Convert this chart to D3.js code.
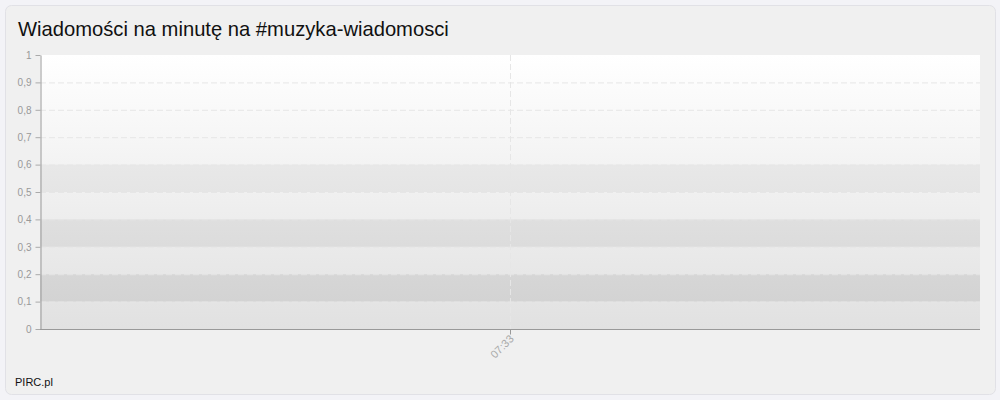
<!DOCTYPE html>
<html><head><meta charset="utf-8">
<script src="https://cdn.jsdelivr.net/npm/d3@7"></script>
<style>
html,body{margin:0;padding:0;background:#f3f3f7;}
svg{display:block;font-family:"Liberation Sans",Arial,sans-serif;}
</style></head>
<body>
<svg id="c" width="1000" height="400"></svg>
<script>
const title = "Wiadomości na minutę na #muzyka-wiadomosci";
const credit = "PIRC.pl";
const categories = ["07:33"];
const values = [0];
const yTicks = [0,0.1,0.2,0.3,0.4,0.5,0.6,0.7,0.8,0.9,1];
const bandRanges = [[0.1,0.2],[0.3,0.4],[0.5,0.6]];

const svg = d3.select("#c");
const m = {left:40, right:980, top:55, bottom:329};

svg.append("rect").attr("x",5.5).attr("y",5.5).attr("width",990).attr("height",389)
  .attr("rx",6).attr("fill","#f0f0f0").attr("stroke","#e1e1e6");

svg.append("text").attr("x",18).attr("y",36).attr("font-size",20.2).attr("fill","#111").text(title);

const x = d3.scalePoint().domain(categories).range([m.left,m.right]).padding(0.5);
const y = d3.scaleLinear().domain([0,1]).range([m.bottom,m.top]);

const defs = svg.append("defs");
const g = defs.append("linearGradient").attr("id","bg").attr("x1",0).attr("y1",0).attr("x2",0).attr("y2",1);
g.append("stop").attr("offset","0%").attr("stop-color","#ffffff");
g.append("stop").attr("offset","100%").attr("stop-color","#e1e1e1");

svg.append("rect").attr("x",m.left).attr("y",m.top).attr("width",m.right-m.left).attr("height",m.bottom-m.top)
  .attr("fill","url(#bg)");

svg.append("g").selectAll("rect").data(bandRanges).join("rect")
  .attr("x",m.left).attr("width",m.right-m.left)
  .attr("y",d=>y(d[1])).attr("height",d=>y(d[0])-y(d[1]))
  .attr("fill","#000").attr("fill-opacity",(d,i)=>[0.07,0.06,0.045][i]);

// grid
svg.append("g").selectAll("line").data(yTicks.filter(t=>t>0 && t<1)).join("line")
  .attr("x1",m.left).attr("x2",m.right).attr("y1",d=>y(d)+0.5).attr("y2",d=>y(d)+0.5)
  .attr("stroke","#e6e6e6").attr("stroke-dasharray","6,3");
svg.append("g").selectAll("line").data(categories).join("line")
  .attr("x1",d=>x(d)+0.5).attr("x2",d=>x(d)+0.5).attr("y1",m.top).attr("y2",m.bottom)
  .attr("stroke","#e6e6e6").attr("stroke-dasharray","6,3");

// y axis
const fmt = d => String(d).replace(".",",");
const ya = svg.append("g").attr("transform",`translate(${m.left+0.5},0)`)
  .call(d3.axisLeft(y).tickValues(yTicks).tickFormat(fmt).tickSize(5).tickSizeOuter(0).tickPadding(4));
ya.select(".domain").attr("stroke","#999");
ya.selectAll(".tick line").attr("stroke","#aaa");
ya.selectAll(".tick text").attr("fill","#999").attr("font-size",10).attr("font-family","Liberation Sans, Arial, sans-serif");

// x axis
const xa = svg.append("g").attr("transform",`translate(0,${m.bottom+0.5})`)
  .call(d3.axisBottom(x).tickSize(5).tickSizeOuter(0));
xa.select(".domain").attr("stroke","#999").attr("d",`M${m.left},0H${m.right}`);
xa.selectAll(".tick line").attr("stroke","#999");
xa.selectAll(".tick text").attr("fill","#aaa").attr("font-size",11)
  .attr("font-family","Liberation Sans, Arial, sans-serif")
  .attr("text-anchor","end").attr("dy",0).attr("y",0)
  .attr("transform","translate(4,10) rotate(-45)");

// series (single point, no visible line)
svg.append("path").datum(values.map((v,i)=>[categories[i],v]))
  .attr("fill","none").attr("stroke","#4572a7").attr("stroke-width",2)
  .attr("d",d3.line().x(d=>x(d[0])).y(d=>y(d[1])));

svg.append("text").attr("x",15).attr("y",386).attr("font-size",11).attr("fill","#111").text(credit);
</script>
</body></html>
